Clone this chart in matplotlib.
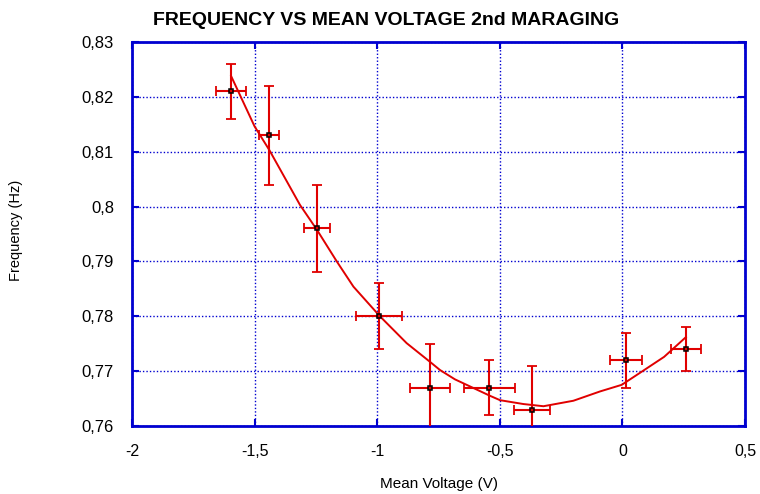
import numpy as np
import matplotlib
matplotlib.use("Agg")
import matplotlib.pyplot as plt
from matplotlib.ticker import FuncFormatter

# measured points (mean voltage, frequency) with errors
voltage = [-1.596, -1.441, -1.245, -0.993, -0.785, -0.544, -0.369, 0.015, 0.259]
freq = [0.821, 0.813, 0.796, 0.780, 0.767, 0.767, 0.763, 0.772, 0.774]
volt_err = [0.06, 0.04, 0.053, 0.095, 0.08, 0.104, 0.073, 0.065, 0.06]
freq_err = [0.005, 0.009, 0.008, 0.006, 0.008, 0.005, 0.008, 0.005, 0.004]

# fitted curve
fit_v = [-1.596, -1.5, -1.44, -1.315, -1.245, -1.165, -1.097, -0.989, -0.88,
         -0.785, -0.744, -0.683, -0.54, -0.499, -0.404, -0.322, -0.2, -0.091,
         -0.003, 0.072, 0.17, 0.259]
fit_f = [0.8238, 0.8146, 0.8103, 0.8003, 0.7957, 0.790, 0.7854, 0.780, 0.7751,
         0.7717, 0.7702, 0.7685, 0.7655, 0.7647, 0.7640, 0.7636, 0.7646, 0.7663,
         0.7675, 0.7697, 0.7726, 0.7762]

x_ticks = [-2, -1.5, -1, -0.5, 0, 0.5]
y_ticks = [0.76, 0.77, 0.78, 0.79, 0.80, 0.81, 0.82, 0.83]

plt.rcParams['font.family'] = ['Liberation Sans', 'DejaVu Sans']

blue = '#0000d0'
red = '#e00000'

fig = plt.figure(figsize=(7.6, 4.94), dpi=100)
ax = fig.add_axes([0.1737, 0.1377, 0.8066, 0.7773])

ax.plot(fit_v, fit_f, color=red, lw=1.4, zorder=3)
ax.errorbar(voltage, freq, xerr=volt_err, yerr=freq_err, fmt='none',
            ecolor=red, elinewidth=1.5, capsize=3.5, capthick=1.3, zorder=4)
ax.plot(voltage, freq, ls='none', marker='s', ms=3.5, mfc='none',
        mec='black', mew=1.1, zorder=5)

ax.set_xlim(-2, 0.5)
ax.set_ylim(0.76, 0.83)
ax.set_xticks(x_ticks)
ax.set_yticks(y_ticks)


def comma(v, pos):
    s = ('%.2f' % v).rstrip('0').rstrip('.')
    return s.replace('.', ',')


ax.xaxis.set_major_formatter(FuncFormatter(comma))
ax.yaxis.set_major_formatter(FuncFormatter(comma))

ax.grid(True, color=blue, ls=(0, (1, 1.5)), lw=1.0)
for sp in ax.spines.values():
    sp.set_color(blue)
    sp.set_linewidth(2)
ax.tick_params(direction='in', length=5, width=1.5, color=blue,
               top=True, right=True, pad=13)
ax.tick_params(axis='x', labelsize=11.5)
ax.tick_params(axis='y', labelsize=12)

ax.set_xlabel('Mean Voltage (V)', fontsize=11)
ax.xaxis.set_label_coords(0.5, -0.133)
ax.set_ylabel('Frequency (Hz)', fontsize=10.5)
ax.yaxis.set_label_coords(-0.178, 0.51)
fig.text(0.508, 0.959, 'FREQUENCY VS MEAN VOLTAGE 2nd MARAGING',
         ha='center', va='center', fontsize=14, fontweight='bold')

fig.savefig('out.png', dpi=100)
